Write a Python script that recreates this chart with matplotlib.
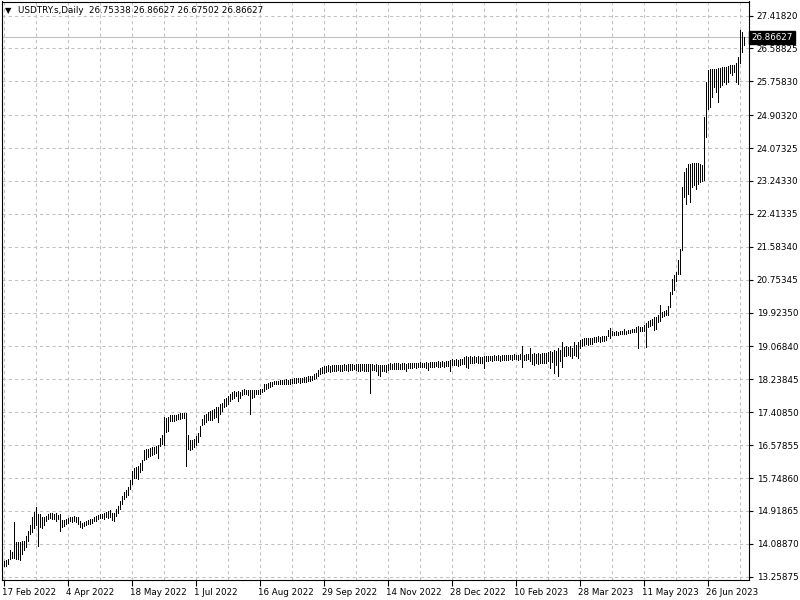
import matplotlib
matplotlib.use("Agg")
import matplotlib.pyplot as plt
import matplotlib.transforms as mtransforms
import numpy as np

symbol = "USDTRY.s,Daily"
last_open, last_high, last_low, last_close = 26.75338, 26.86627, 26.67502, 26.86627

highs = [
    13.65, 13.68, 13.70, 13.92, 13.87, 14.63, 14.13, 14.13, 14.13, 14.17,
    14.17, 14.29, 14.42, 14.57, 14.76, 14.88, 15.01, 14.84, 14.84, 14.77,
    14.76, 14.79, 14.84, 14.86, 14.86, 14.84, 14.86, 14.82, 14.84, 14.69,
    14.69, 14.72, 14.74, 14.76, 14.77, 14.79, 14.77, 14.76, 14.67, 14.62,
    14.65, 14.67, 14.69, 14.71, 14.72, 14.76, 14.79, 14.82, 14.83, 14.84,
    14.86, 14.88, 14.91, 14.94, 14.87, 14.87, 14.97, 15.03, 15.18, 15.30,
    15.39, 15.45, 15.53, 15.70, 15.92, 16.00, 16.02, 16.05, 16.12, 16.21,
    16.45, 16.47, 16.47, 16.50, 16.52, 16.52, 16.55, 16.58, 16.77, 16.83,
    17.28, 17.27, 17.30, 17.33, 17.33, 17.34, 17.35, 17.37, 17.38, 17.38,
    17.38, 17.38, 16.83, 16.72, 16.72, 16.74, 16.80, 16.88, 17.05, 17.24,
    17.33, 17.37, 17.41, 17.43, 17.47, 17.49, 17.53, 17.53, 17.62, 17.63,
    17.74, 17.78, 17.82, 17.88, 17.91, 17.95, 17.93, 17.95, 17.93, 17.97,
    17.99, 17.97, 17.97, 17.97, 17.97, 17.97, 17.97, 17.97, 17.99, 17.99,
    18.11, 18.13, 18.15, 18.16, 18.18, 18.20, 18.20, 18.20, 18.22, 18.22,
    18.23, 18.24, 18.23, 18.25, 18.24, 18.26, 18.27, 18.28, 18.27, 18.28,
    18.29, 18.30, 18.32, 18.31, 18.33, 18.38, 18.41, 18.48, 18.53, 18.55,
    18.57, 18.58, 18.59, 18.58, 18.60, 18.59, 18.61, 18.60, 18.61, 18.60,
    18.62, 18.61, 18.62, 18.63, 18.62, 18.61, 18.62, 18.63, 18.62, 18.62,
    18.62, 18.63, 18.63, 18.62, 18.62, 18.61, 18.62, 18.61, 18.60, 18.61,
    18.60, 18.61, 18.63, 18.64, 18.63, 18.64, 18.65, 18.64, 18.63, 18.64,
    18.64, 18.63, 18.65, 18.66, 18.65, 18.66, 18.65, 18.66, 18.67, 18.66,
    18.66, 18.67, 18.66, 18.67, 18.68, 18.67, 18.68, 18.69, 18.68, 18.69,
    18.68, 18.69, 18.70, 18.72, 18.74, 18.73, 18.74, 18.73, 18.74, 18.75,
    18.80, 18.82, 18.81, 18.82, 18.81, 18.82, 18.81, 18.82, 18.80, 18.81,
    18.82, 18.82, 18.83, 18.82, 18.83, 18.84, 18.83, 18.84, 18.83, 18.84,
    18.84, 18.85, 18.86, 18.85, 18.86, 18.87, 18.86, 18.86, 18.87, 19.07,
    18.86, 18.87, 18.88, 19.03, 18.89, 18.90, 18.89, 18.90, 18.89, 18.90,
    18.90, 18.91, 18.92, 18.96, 18.93, 18.98, 18.95, 19.03, 18.98, 19.17,
    19.05, 19.07, 19.06, 19.07, 19.03, 19.18, 19.11, 19.18, 19.24, 19.25,
    19.27, 19.28, 19.27, 19.28, 19.29, 19.30, 19.31, 19.32, 19.31, 19.32,
    19.33, 19.32, 19.49, 19.53, 19.45, 19.44, 19.45, 19.44, 19.46,
    19.47, 19.51, 19.47, 19.49, 19.49, 19.51, 19.51, 19.57, 19.59, 19.55,
    19.57, 19.62, 19.65, 19.70, 19.74, 19.76, 19.80, 19.82, 19.85, 20.12,
    19.93, 19.97, 19.99, 20.10, 20.44, 20.77, 20.86, 20.94, 21.25, 21.53,
    23.10,
    23.47, 23.58, 23.66, 23.68, 23.70, 23.70, 23.70, 23.70, 23.68, 23.64,
    24.86, 25.75, 26.04, 26.06, 26.08, 26.08, 26.08, 26.10, 26.10, 26.11,
    26.12, 26.12, 26.14, 26.17, 26.17, 26.18, 26.23, 26.36, 27.05, 27.01, 26.86627,
]

lows = [
    13.54, 13.52, 13.58, 13.70, 13.73, 13.73, 13.70, 13.70, 13.69, 13.83,
    13.92, 14.00, 14.17, 14.34, 14.38, 14.50, 14.57, 14.04, 14.52, 14.49,
    14.57, 14.67, 14.71, 14.74, 14.72, 14.71, 14.67, 14.71, 14.42, 14.52,
    14.55, 14.59, 14.62, 14.66, 14.64, 14.67, 14.64, 14.59, 14.52, 14.50,
    14.55, 14.57, 14.59, 14.60, 14.62, 14.66, 14.67, 14.71, 14.74, 14.74,
    14.71, 14.76, 14.74, 14.77, 14.69, 14.67, 14.80, 14.86, 14.97, 15.09,
    15.21, 15.26, 15.33, 15.47, 15.60, 15.75, 15.76, 15.72, 15.90, 15.96,
    16.20, 16.24, 16.29, 16.30, 16.33, 16.35, 16.37, 16.25, 16.55, 16.60,
    16.58, 16.91, 16.93, 17.18, 17.19, 17.19, 17.21, 17.24, 17.24, 17.27,
    17.27, 16.04, 16.47, 16.45, 16.47, 16.52, 16.58, 16.66, 16.80, 17.08,
    17.12, 17.16, 17.20, 17.20, 17.22, 17.27, 17.29, 17.17, 17.37, 17.43,
    17.53, 17.57, 17.62, 17.70, 17.74, 17.77, 17.82, 17.70, 17.78, 17.85,
    17.88, 17.87, 17.85, 17.37, 17.78, 17.80, 17.87, 17.87, 17.88, 17.91,
    17.95, 17.99, 18.03, 18.05, 18.07, 18.11, 18.12, 18.12, 18.13, 18.11,
    18.12, 18.11, 18.13, 18.12, 18.14, 18.15, 18.14, 18.16, 18.15, 18.16,
    18.17, 18.18, 18.20, 18.19, 18.21, 18.24, 18.26, 18.33, 18.37, 18.40,
    18.41, 18.43, 18.44, 18.42, 18.45, 18.46, 18.45, 18.47, 18.46, 18.45,
    18.47, 18.48, 18.46, 18.48, 18.47, 18.49, 18.47, 18.46, 18.45, 18.47,
    18.46, 18.45, 18.46, 17.90, 18.48, 18.47, 18.45, 18.34, 18.33, 18.46,
    18.44, 18.42, 18.48, 18.49, 18.50, 18.49, 18.51, 18.50, 18.49, 18.50,
    18.50, 18.46, 18.52, 18.53, 18.52, 18.54, 18.53, 18.54, 18.55, 18.54,
    18.54, 18.53, 18.48, 18.55, 18.56, 18.55, 18.57, 18.56, 18.56, 18.57,
    18.56, 18.58, 18.57, 18.45, 18.60, 18.59, 18.60, 18.58, 18.60, 18.62,
    18.62, 18.55, 18.52, 18.65, 18.66, 18.65, 18.67, 18.66, 18.65, 18.66,
    18.52, 18.70, 18.71, 18.72, 18.71, 18.72, 18.73, 18.72, 18.71, 18.72,
    18.73, 18.72, 18.73, 18.74, 18.73, 18.75, 18.74, 18.73, 18.74, 18.56,
    18.72, 18.73, 18.74, 18.69, 18.63, 18.61, 18.66, 18.62, 18.64, 18.65,
    18.66, 18.65, 18.70, 18.52, 18.68, 18.40, 18.60, 18.31, 18.69, 18.56,
    18.83, 18.82, 18.84, 18.82, 18.77, 18.86, 18.82, 18.77, 19.03, 19.08,
    19.11, 19.12, 19.11, 19.13, 19.12, 19.18, 19.19, 19.20, 19.19, 19.20,
    19.21, 19.22, 19.32, 19.28, 19.35, 19.36, 19.35, 19.36, 19.37,
    19.38, 19.38, 19.38, 19.40, 19.42, 19.43, 19.43, 19.43, 19.03, 19.45,
    19.45, 19.47, 19.05, 19.55, 19.59, 19.62, 19.48, 19.51, 19.68, 19.72,
    19.80, 19.83, 19.85, 19.85, 20.06, 20.39, 20.48, 20.73, 20.90, 20.90,
    21.49,
    22.84, 22.67, 22.92, 22.71, 23.09, 23.13, 23.05, 23.17, 23.22, 23.24,
    23.26, 24.35, 25.07, 25.11, 25.37, 25.62, 25.49, 25.24, 25.62, 25.66,
    25.75, 25.70, 25.75, 25.96, 25.91, 26.00, 25.75, 25.70, 26.21, 26.50, 26.67502,
]

price_ticks = [27.41820, 26.58825, 25.75830, 24.90320, 24.07325, 23.24330,
               22.41335, 21.58340, 20.75345, 19.92350, 19.06840, 18.23845,
               17.40850, 16.57855, 15.74860, 14.91865, 14.08870, 13.25875]

date_labels = ["17 Feb 2022", "4 Apr 2022", "18 May 2022", "1 Jul 2022",
               "16 Aug 2022", "29 Sep 2022", "14 Nov 2022", "28 Dec 2022",
               "10 Feb 2023", "28 Mar 2023", "11 May 2023", "26 Jun 2023"]

LABEL_STEP = 32   # bars between date labels
GRID_STEP = 16    # bars between vertical grid lines

plt.rcParams["font.family"] = ["DejaVu Sans"]
FS = 6.3

W, H = 800, 600
fig = plt.figure(figsize=(8, 6), dpi=100, facecolor="white")
ax = fig.add_axes([1.5 / W, (H - 579.5) / H, 747 / W, 578 / H])
ax.set_facecolor("white")

n = len(highs)
idx = np.arange(n)

px_per_price = (576.7 - 15.5) / (price_ticks[0] - price_ticks[-1])
y_top = price_ticks[0] + (15.5 - 1.5) / px_per_price
y_bot = price_ticks[-1] - (579.5 - 576.7) / px_per_price
ax.set_ylim(y_bot, y_top)
ax.set_xlim(-1, 372.5)

grid_kw = dict(color="#c0c0c0", linewidth=0.75, linestyle=(0, (3, 3)), zorder=0)
for gx in range(0, n, GRID_STEP):
    ax.axvline(gx, **grid_kw)
for gy in price_ticks:
    ax.axhline(gy, **grid_kw)

ax.axhline(last_close, color="#c0c0c0", linewidth=0.8, zorder=1)

ax.vlines(idx, lows, highs, colors="black", linewidth=0.7, zorder=3,
          antialiased=False)

xt = [i * LABEL_STEP for i in range(len(date_labels))]
ax.set_xticks(xt)
ax.set_xticklabels(date_labels, ha="left", fontsize=FS)
ax.tick_params(axis="x", length=4, width=0.8, pad=2, color="black")
for lbl in ax.get_xticklabels():
    lbl.set_transform(lbl.get_transform() + mtransforms.ScaledTranslation(-1 / 100, 0, fig.dpi_scale_trans))

ax.yaxis.tick_right()
ax.set_yticks(price_ticks)
ax.set_yticklabels([f"{v:.5f}" for v in price_ticks], fontsize=FS)
ax.tick_params(axis="y", length=3, width=0.8, pad=3, color="black")

for sp in ax.spines.values():
    sp.set_color("black")
    sp.set_linewidth(0.8)

trans = mtransforms.blended_transform_factory(ax.transAxes, ax.transData)
ax.text(1.004, last_close, f"{last_close:.5f}", transform=trans, color="white",
        fontsize=FS, va="center", ha="left", clip_on=False,
        bbox=dict(boxstyle="square,pad=0.25", facecolor="black", edgecolor="black"))

fig.text(5 / W, 1 - 10.5 / H, "\u25BC", fontsize=6, va="center", ha="left", color="black")
fig.text(18 / W, 1 - 10.5 / H,
         f"{symbol}  {last_open:.5f} {last_high:.5f} {last_low:.5f} {last_close:.5f}",
         fontsize=FS, va="center", ha="left", color="black")

fig.savefig("out.png", dpi=100, facecolor="white")
